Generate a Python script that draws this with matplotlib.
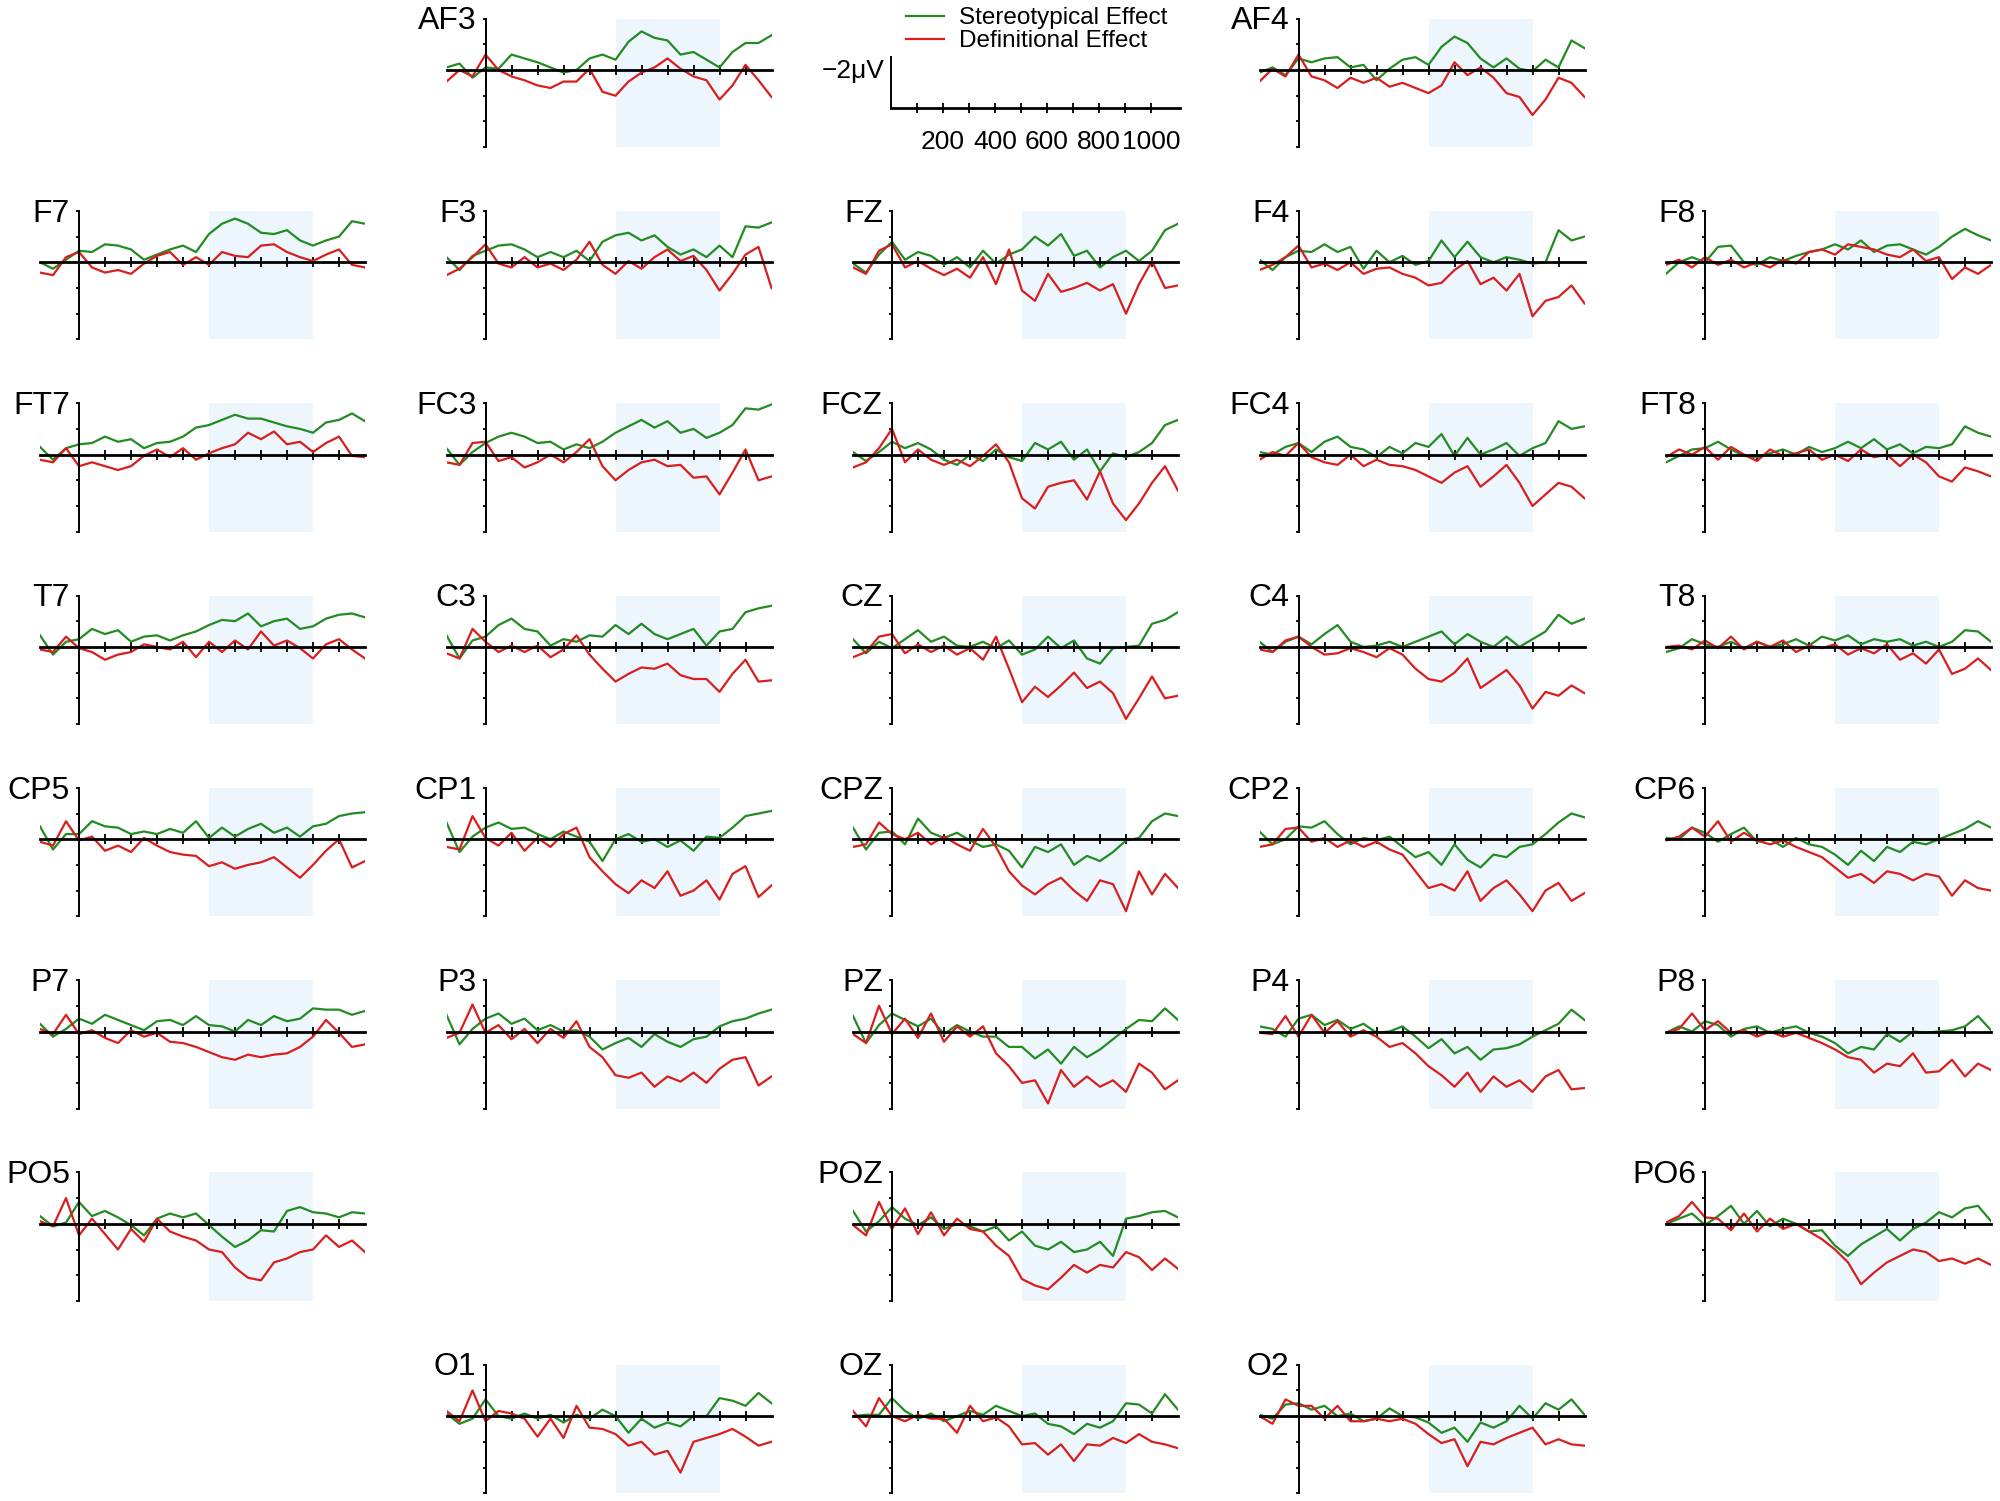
import matplotlib
matplotlib.use("Agg")
import matplotlib.pyplot as plt
from matplotlib.lines import Line2D

plt.rcParams['font.family'] = ['Liberation Sans', 'DejaVu Sans']

# time points (ms)
times = [-150, -100, -50, 0, 50, 100, 150, 200, 250, 300, 350, 400, 450,
         500, 550, 600, 650, 700, 750, 800, 850, 900, 950, 1000, 1050, 1100]

# difference waves in microvolts (negative plotted upward)
AF3_st = [-0.1,-0.25,0.3,-0.1,-0.05,-0.6,-0.45,-0.3,-0.1,0.1,0,-0.45,-0.6,-0.4,-1.1,-1.5,-1.25,-1.15,-0.6,-0.7,-0.4,-0.1,-0.7,-1.05,-1.05,-1.35]
AF3_df = [0.45,0,0.25,-0.6,0,0.25,0.4,0.6,0.7,0.45,0.45,-0.05,0.85,1.0,0.45,0.1,-0.1,-0.45,-0.05,0.25,0.4,1.15,0.6,-0.2,0.4,1.05]
AF4_st = [0.1,-0.1,0.2,-0.45,-0.3,-0.45,-0.5,-0.1,-0.2,0.4,-0.05,-0.4,-0.5,-0.2,-0.9,-1.3,-1.05,-0.45,-0.1,-0.45,-0.05,0.05,-0.4,-0.1,-1.15,-0.85]
AF4_df = [0.45,-0.05,0.25,-0.6,0.25,0.4,0.7,0.3,0.5,0.3,0.65,0.5,0.7,0.9,0.6,-0.3,0.2,-0.1,0.3,0.9,1.05,1.75,1.15,0.3,0.5,1.05]

F7_st = [0,0.25,-0.1,-0.45,-0.4,-0.7,-0.65,-0.5,-0.1,-0.3,-0.5,-0.65,-0.4,-1.1,-1.5,-1.7,-1.5,-1.15,-1.1,-1.25,-0.85,-0.65,-0.85,-1.0,-1.6,-1.5]
F7_df = [0.4,0.5,-0.2,-0.4,0.2,0.4,0.3,0.45,0.05,-0.25,-0.4,0.1,-0.2,0.1,-0.4,-0.25,-0.2,-0.65,-0.7,-0.4,-0.2,-0.05,-0.3,-0.5,0.1,0.2]
F3_st = [-0.2,0.3,-0.25,-0.45,-0.65,-0.7,-0.5,-0.2,-0.4,-0.2,-0.45,-0.05,-0.8,-1.05,-1.15,-0.85,-1.05,-0.6,-0.3,-0.5,-0.2,-0.65,-0.2,-1.4,-1.35,-1.55]
F3_df = [0.5,0.25,-0.2,-0.7,0.05,0.2,-0.2,0.2,0.05,0.3,-0.1,-0.8,0.1,0.45,-0.05,0.25,-0.2,-0.5,-0.05,-0.25,0.3,1.1,0.45,-0.3,-0.6,1.0]
FZ_st = [0.05,0.4,-0.3,-0.8,-0.1,-0.4,-0.25,0.1,-0.2,0.2,-0.45,0.05,-0.3,-0.5,-1.0,-0.65,-1.1,-0.25,-0.45,0.2,-0.2,-0.45,-0.05,-0.45,-1.25,-1.5]
FZ_df = [0.2,0.45,-0.45,-0.7,0.2,-0.05,0.25,0.5,0.25,0.6,-0.2,0.85,-0.5,1.1,1.5,0.45,1.15,1.0,0.8,1.1,0.85,2.0,0.85,-0.05,1.0,0.9]
F4_st = [-0.1,0.3,-0.2,-0.45,-0.4,-0.7,-0.4,-0.6,0.25,-0.45,0,-0.25,0.1,-0.05,-0.85,-0.2,-0.8,-0.2,0,-0.2,-0.1,0.05,0,-1.25,-0.85,-1.0]
F4_df = [0.3,0.1,-0.2,-0.65,0.2,0.05,0.3,0,0.45,0.25,0.2,0.45,0.6,0.9,0.8,0.3,-0.05,0.85,0.6,1.1,0.45,2.1,1.5,1.35,0.9,1.6]
F8_st = [0.45,0,-0.2,0,-0.6,-0.65,0,0.1,-0.2,-0.05,-0.25,-0.4,-0.5,-0.7,-0.5,-0.85,-0.4,-0.65,-0.7,-0.5,-0.3,-0.6,-1.0,-1.3,-1.05,-0.85]
F8_df = [0.1,-0.1,0.2,-0.2,0.1,-0.1,0.2,0,0.2,-0.1,0.05,-0.4,-0.5,-0.3,-0.7,-0.6,-0.5,-0.3,-0.2,-0.5,-0.05,-0.2,0.65,0.2,0.45,0.1]

FT7_st = [-0.3,0.2,-0.25,-0.4,-0.45,-0.7,-0.5,-0.6,-0.25,-0.45,-0.5,-0.7,-1.05,-1.15,-1.35,-1.55,-1.4,-1.4,-1.25,-1.1,-1.0,-0.85,-1.25,-1.35,-1.6,-1.3]
FT7_df = [0.2,0.3,-0.25,0.45,0.3,0.45,0.6,0.45,0.05,-0.2,0.1,-0.25,0.2,-0.05,-0.25,-0.4,-0.85,-0.6,-0.9,-0.4,-0.5,-0.1,-0.45,-0.7,0.05,0.1]
FC3_st = [-0.25,0.4,-0.1,-0.45,-0.7,-0.85,-0.7,-0.45,-0.5,-0.2,-0.4,-0.25,-0.5,-0.85,-1.1,-1.35,-1.05,-1.3,-0.85,-1.0,-0.65,-0.85,-1.15,-1.8,-1.75,-1.95]
FC3_df = [0.3,0.4,-0.45,-0.5,0.25,0.1,0.5,0.3,0,0.3,-0.1,-0.6,0.45,1.0,0.6,0.3,0.2,0.45,0.4,0.9,0.85,1.55,0.7,-0.2,1.0,0.85]
FCZ_st = [-0.1,0.25,-0.1,-0.5,-0.25,-0.45,-0.2,0.2,0.4,0,0.25,-0.2,0.1,0.25,-0.45,-0.2,-0.5,0.2,-0.2,0.65,-0.05,0.1,-0.1,-0.45,-1.15,-1.35]
FCZ_df = [0.5,0.3,-0.25,-1.0,0.3,-0.2,0.2,0.4,0.2,0.45,0.05,-0.4,0.3,1.7,2.1,1.25,1.1,1.0,1.75,0.65,1.9,2.55,1.9,1.1,0.45,1.4]
FC4_st = [-0.1,0,-0.3,-0.45,-0.1,-0.5,-0.7,-0.3,-0.2,0.1,-0.3,-0.05,-0.45,-0.3,-0.8,0.05,-0.65,0,-0.2,-0.45,0.05,-0.25,-0.45,-1.3,-1.0,-1.1]
FC4_df = [0.2,-0.1,0.05,-0.45,0.1,0.3,0.4,0,0.45,0.2,0.4,0.45,0.6,0.85,1.1,0.7,0.45,1.25,0.85,0.4,1.1,2.0,1.55,1.1,1.25,1.7]
FT8_st = [0.3,0.05,-0.2,-0.25,-0.5,-0.2,0.05,0.1,-0.05,-0.2,0,-0.3,-0.1,-0.25,-0.5,-0.25,-0.6,-0.2,-0.4,-0.05,-0.3,-0.25,-0.4,-1.1,-0.85,-0.7]
FT8_df = [0.1,-0.2,0,-0.3,0.2,-0.3,0,0.25,-0.2,0.05,-0.05,-0.2,0.2,0,0.25,-0.2,0.1,0,0.45,0,0.3,0.85,1.05,0.5,0.65,0.85]

T7_st = [-0.45,0.3,-0.2,-0.3,-0.7,-0.5,-0.65,-0.2,-0.4,-0.45,-0.25,-0.45,-0.6,-0.85,-1.05,-1.0,-1.3,-0.8,-1.0,-1.1,-0.7,-0.8,-1.1,-1.25,-1.3,-1.15]
T7_df = [0.1,0.2,-0.4,0.05,0.2,0.5,0.3,0.2,-0.1,0,0.1,-0.2,0.4,-0.2,0.2,-0.25,0.1,-0.6,-0.05,-0.25,0.05,0.45,-0.1,-0.3,0.1,0.45]
C3_st = [-0.45,0.45,-0.25,-0.4,-0.85,-1.1,-0.7,-0.6,-0.05,-0.3,-0.2,-0.45,-0.4,-0.85,-0.5,-0.9,-0.5,-0.3,-0.5,-0.7,-0.05,-0.6,-0.7,-1.35,-1.5,-1.6]
C3_df = [0.25,0.45,-0.7,-0.2,0.2,-0.05,0.2,-0.05,0.4,0.1,-0.45,0.3,0.85,1.35,1.05,0.8,0.85,0.65,1.1,1.25,1.25,1.75,1.05,0.5,1.35,1.3]
CZ_st = [-0.3,0.25,-0.2,0.05,-0.3,-0.65,-0.2,-0.4,-0.05,0,-0.2,0.05,-0.25,0.3,0.1,-0.4,0.05,-0.25,0.45,0.65,0.05,0,-0.05,-0.9,-1.05,-1.35]
CZ_df = [0.4,0.2,-0.4,-0.5,0.25,-0.1,0.2,-0.05,0.3,0.05,0.5,-0.4,0.85,2.15,1.55,1.95,1.5,1.0,1.6,1.35,1.8,2.8,2.0,1.15,2.0,1.9]
C4_st = [-0.2,0.2,-0.2,-0.4,-0.1,-0.5,-0.85,-0.2,0,-0.05,-0.2,0,-0.2,-0.4,-0.6,-0.1,-0.5,-0.2,0,-0.4,0,-0.3,-0.6,-1.25,-0.9,-1.1]
C4_df = [0.1,0.2,-0.25,-0.4,0,0.3,0.25,0.05,0.2,0.4,0.05,0.3,0.85,1.25,1.35,1.0,0.45,1.6,1.25,0.9,1.5,2.4,1.75,1.9,1.5,1.8]
T8_st = [0.2,0.05,-0.3,-0.1,0,-0.2,0.05,-0.2,0,-0.1,-0.3,-0.05,-0.4,-0.25,-0.45,-0.1,-0.3,-0.2,-0.3,-0.05,-0.2,0,-0.2,-0.65,-0.6,-0.2]
T8_df = [0,-0.05,0.1,-0.25,0.05,-0.4,0.1,-0.2,0,-0.25,0.2,-0.05,0.05,-0.1,0.3,0.05,0.25,-0.1,0.5,0.25,0.65,0.1,1.05,0.85,0.45,0.9]

CP5_st = [-0.5,0.4,-0.2,-0.2,-0.7,-0.5,-0.45,-0.2,-0.3,-0.2,-0.4,-0.25,-0.7,-0.05,-0.45,-0.1,-0.4,-0.6,-0.25,-0.45,-0.1,-0.5,-0.6,-0.9,-1.0,-1.05]
CP5_df = [0.1,0.25,-0.7,0.05,-0.1,0.45,0.25,0.5,-0.05,0.25,0.5,0.6,0.65,1.05,0.9,1.15,1.0,0.9,0.7,1.1,1.5,1.0,0.45,0,1.1,0.85]
CP1_st = [-0.65,0.5,-0.1,-0.45,-0.65,-0.4,-0.45,-0.2,0,-0.3,-0.1,0.1,0.85,0,-0.2,0.1,0,0.3,0.05,0.45,-0.1,-0.05,-0.45,-0.9,-1.0,-1.1]
CP1_df = [0.3,0.4,-0.9,-0.05,0.25,-0.25,0.45,-0.05,0.3,-0.2,-0.45,0.7,1.25,1.75,2.1,1.6,1.9,1.25,2.2,2.0,1.6,2.35,1.35,1.05,2.25,1.8]
CPZ_st = [-0.45,0.4,-0.25,-0.3,0.2,-0.8,-0.25,-0.05,-0.25,0.05,0.3,0.2,0.45,1.1,0.3,0.5,0.2,1.0,0.65,0.85,0.5,0.05,-0.05,-0.7,-1.0,-0.9]
CPZ_df = [0.3,0.2,-0.65,-0.2,0,-0.25,0.2,-0.1,0.2,0.45,-0.4,0.3,1.25,1.8,2.15,1.75,1.5,2.0,2.4,1.6,1.75,2.8,1.25,2.15,1.35,1.9]
CP2_st = [-0.3,0.2,0,-0.5,-0.45,-0.7,-0.2,0.2,-0.05,0.05,-0.1,0.3,0.7,0.5,1.0,0.2,0.8,1.1,0.6,0.7,0.3,0.2,-0.2,-0.65,-1.0,-0.85]
CP2_df = [0.3,0.2,-0.4,-0.45,0.1,-0.05,0.3,0.05,0.3,0.1,0.4,0.6,1.25,1.9,1.75,2.0,1.25,2.4,1.9,1.6,2.15,2.8,2.0,1.7,2.4,2.1]
CP6_st = [-0.05,0,-0.45,-0.25,0.1,-0.2,-0.45,0.1,0,0.3,-0.05,0.2,0.3,0.6,1.0,0.45,0.85,0.3,0.5,0.1,0.2,0,-0.2,-0.4,-0.7,-0.45]
CP6_df = [0.05,-0.1,-0.45,-0.1,-0.7,0.1,-0.25,0.05,0.2,0.05,0.3,0.5,0.7,1.1,1.5,1.35,1.7,1.25,1.35,1.6,1.35,1.45,2.2,1.6,1.9,2.0]

P7_st = [-0.3,0.2,-0.1,-0.5,-0.3,-0.65,-0.45,-0.25,-0.05,-0.4,-0.45,-0.25,-0.6,-0.25,-0.2,0,-0.45,-0.25,-0.6,-0.4,-0.5,-0.9,-0.85,-0.85,-0.65,-0.8]
P7_df = [-0.1,0.1,-0.65,0.1,-0.05,0.25,0.45,-0.05,0.2,0.05,0.4,0.45,0.6,0.8,1.0,1.1,0.9,1.0,0.9,0.85,0.6,0.2,-0.45,0.05,0.6,0.5]
P3_st = [-0.65,0.5,-0.1,-0.5,-0.7,-0.3,-0.5,-0.05,-0.25,0,-0.05,0.2,0.7,0.45,0.25,0.6,0.1,0.4,0.6,0.3,0.2,-0.2,-0.4,-0.5,-0.7,-0.85]
P3_df = [0.25,0.05,-1.05,0.05,-0.25,0.3,-0.1,0.45,-0.1,0.25,-0.4,0.6,1.0,1.7,1.8,1.6,2.15,1.75,1.95,1.6,2.0,1.45,1.1,1.0,2.1,1.75]
PZ_st = [-0.6,0.45,-0.25,-0.7,-0.45,-0.2,-0.5,0.1,-0.25,0,0.2,0.2,0.6,0.6,1.05,0.7,1.25,0.6,1.0,0.7,0.3,-0.1,-0.45,-0.4,-0.9,-0.45]
PZ_df = [0.1,0.45,-1.0,0.1,-0.5,0.25,-0.7,0.4,-0.2,0.2,-0.2,0.85,1.35,2.0,1.9,2.8,1.5,2.15,1.75,2.15,1.9,2.35,1.25,1.6,2.25,1.9]
P4_st = [-0.2,-0.1,0.2,-0.5,-0.65,-0.25,-0.45,-0.1,-0.3,0.05,0,-0.2,0.2,0.65,0.3,0.85,0.6,1.1,0.7,0.65,0.5,0.2,-0.05,-0.3,-0.85,-0.45]
P4_df = [0.05,0.1,-0.6,0.2,-0.65,0.05,-0.4,0.2,-0.05,0.2,0.6,0.45,0.85,1.35,1.7,2.15,1.6,2.35,1.75,2.15,1.9,2.35,1.75,1.5,2.25,2.2]
P8_st = [0.05,-0.2,0,-0.4,-0.25,0.2,-0.1,-0.2,0.05,-0.1,-0.2,0.05,0.2,0.45,0.85,0.6,0.7,0.1,0.4,0,0.05,0,-0.05,-0.2,-0.6,-0.05]
P8_df = [0.05,-0.1,-0.7,-0.05,-0.4,0.05,-0.05,0.2,0,0.2,0.05,0.25,0.45,0.7,1.0,1.1,1.6,1.25,1.35,0.85,1.6,1.55,1.1,1.75,1.25,1.5]

PO5_st = [-0.3,0.1,-0.05,-0.85,-0.3,-0.5,-0.25,0.05,0.45,-0.2,-0.4,-0.25,-0.4,0.05,0.5,0.9,0.65,0.25,0.3,-0.5,-0.65,-0.45,-0.4,-0.25,-0.45,-0.4]
PO5_df = [-0.1,0.1,-1.0,0.45,-0.2,0.4,1.0,0.2,0.7,-0.2,0.3,0.5,0.65,1.0,1.1,1.7,2.1,2.2,1.5,1.35,1.1,1.0,0.45,0.9,0.65,1.1]
POZ_st = [-0.5,0.3,-0.1,-0.65,-0.2,0.05,-0.25,0.2,0,0.1,0.3,0.1,0.65,0.3,0.85,1.0,0.7,1.1,1.0,0.7,1.25,-0.2,-0.3,-0.45,-0.5,-0.25]
POZ_df = [0.05,0.45,-0.85,0.2,-0.6,0.4,-0.45,0.45,-0.2,0.2,0.3,0.85,1.25,2.15,2.4,2.55,2.1,1.6,1.9,1.6,1.7,1.1,1.3,1.8,1.35,1.75]
PO6_st = [0,-0.2,-0.4,0.05,-0.3,-0.7,0,-0.5,0.1,-0.2,0,0.3,0.25,0.85,1.25,0.8,0.5,0.2,0.65,0.2,-0.05,-0.45,-0.25,-0.6,-0.7,-0.1]
PO6_df = [-0.05,-0.3,-0.85,-0.25,-0.2,0.25,-0.4,0.3,-0.2,0.2,0,0.3,0.6,1.0,1.5,2.35,1.9,1.5,1.25,1.0,1.1,1.45,1.35,1.55,1.35,1.6]

O1_st = [-0.1,0.3,0.1,-0.65,0,0.1,-0.1,0.1,-0.05,0.25,-0.05,0.1,-0.25,0,0.65,0.1,0.45,0.25,0.4,0,0,-0.7,-0.6,-0.4,-0.9,-0.5]
O1_df = [-0.2,0.2,-1.0,0.2,-0.2,-0.1,0.1,0.8,0.1,0.85,-0.4,0.45,0.5,0.7,1.15,1.0,1.5,1.35,2.2,1.0,0.85,0.7,0.5,0.8,1.15,1.0]
OZ_st = [0,-0.05,-0.05,-0.7,-0.2,0.1,-0.1,0.2,0,-0.2,-0.05,-0.4,-0.2,0,-0.1,0.3,0.4,0.7,0.3,0.45,0.2,-0.5,-0.45,-0.1,-0.85,-0.25]
OZ_df = [-0.2,0.4,-0.7,0,0.2,-0.05,0.1,0.1,0.65,-0.4,0.2,0.05,0.4,1.1,1.05,1.5,1.1,1.75,1.1,1.15,0.85,1.05,0.7,1.0,1.1,1.25]
O2_st = [-0.05,0.1,-0.45,-0.5,-0.25,-0.4,0,-0.1,0.2,0.1,-0.3,0,0.05,0.25,0.65,0.45,1.0,0.25,0.45,0.2,-0.4,0.1,-0.5,-0.25,-0.65,-0.05]
O2_df = [0,0.3,-0.65,-0.4,-0.4,0.1,-0.4,0.2,0.2,0.1,0.2,0.1,0.3,0.7,1.05,0.9,1.95,1.0,1.1,0.85,0.65,0.45,1.1,0.9,1.1,1.15]

# (label, row, column, stereotypical, definitional)
layout = [
    ("AF3", 0, 1, AF3_st, AF3_df), ("AF4", 0, 3, AF4_st, AF4_df),
    ("F7", 1, 0, F7_st, F7_df), ("F3", 1, 1, F3_st, F3_df), ("FZ", 1, 2, FZ_st, FZ_df),
    ("F4", 1, 3, F4_st, F4_df), ("F8", 1, 4, F8_st, F8_df),
    ("FT7", 2, 0, FT7_st, FT7_df), ("FC3", 2, 1, FC3_st, FC3_df), ("FCZ", 2, 2, FCZ_st, FCZ_df),
    ("FC4", 2, 3, FC4_st, FC4_df), ("FT8", 2, 4, FT8_st, FT8_df),
    ("T7", 3, 0, T7_st, T7_df), ("C3", 3, 1, C3_st, C3_df), ("CZ", 3, 2, CZ_st, CZ_df),
    ("C4", 3, 3, C4_st, C4_df), ("T8", 3, 4, T8_st, T8_df),
    ("CP5", 4, 0, CP5_st, CP5_df), ("CP1", 4, 1, CP1_st, CP1_df), ("CPZ", 4, 2, CPZ_st, CPZ_df),
    ("CP2", 4, 3, CP2_st, CP2_df), ("CP6", 4, 4, CP6_st, CP6_df),
    ("P7", 5, 0, P7_st, P7_df), ("P3", 5, 1, P3_st, P3_df), ("PZ", 5, 2, PZ_st, PZ_df),
    ("P4", 5, 3, P4_st, P4_df), ("P8", 5, 4, P8_st, P8_df),
    ("PO5", 6, 0, PO5_st, PO5_df), ("POZ", 6, 2, POZ_st, POZ_df), ("PO6", 6, 4, PO6_st, PO6_df),
    ("O1", 7, 1, O1_st, O1_df), ("OZ", 7, 2, OZ_st, OZ_df), ("O2", 7, 3, O2_st, O2_df),
]

GREEN = '#228b22'
RED = '#d81e1e'
SHADE = '#edf5fd'

W, H = 2000, 1501
PX_MS = 0.26     # pixels per ms
PX_UV = 25.7     # pixels per microvolt
fig = plt.figure(figsize=(W / 100, H / 100), dpi=100)


def make_axes(axis_x, zero_y):
    left = axis_x - 150 * PX_MS
    top = zero_y - 2 * PX_UV
    w = 1250 * PX_MS
    h = 5 * PX_UV
    ax = fig.add_axes([left / W, 1 - (top + h) / H, w / W, h / H])
    ax.set_xlim(-150, 1100)
    ax.set_ylim(3, -2)
    ax.patch.set_visible(False)
    for s in ('top', 'right'):
        ax.spines[s].set_visible(False)
    ax.spines['left'].set_position(('data', 0))
    ax.spines['bottom'].set_position(('data', 0))
    return ax


for name, row, col, st, df in layout:
    ax = make_axes(79 + 406.5 * col, 70 + 192.3 * row)
    ax.axvspan(500, 900, color=SHADE, zorder=0, lw=0)
    ax.plot(times, st, color=GREEN, lw=1.6, zorder=2)
    ax.plot(times, df, color=RED, lw=1.6, zorder=2)
    ax.spines['left'].set_linewidth(1.4)
    ax.spines['bottom'].set_linewidth(2.0)
    ax.spines['bottom'].set_zorder(3)
    ax.set_yticks([-2, -1, 0, 1, 2, 3])
    ax.set_xticks([100, 200, 300, 400, 500, 600, 700, 800, 900, 1000])
    ax.tick_params(axis='y', direction='out', length=2.5, width=1.3, labelleft=False)
    ax.tick_params(axis='x', direction='inout', length=7, width=1.3, labelbottom=False)
    ax.text(-35, -1.58, name, ha='right', va='baseline', fontsize=23)

# scale bar
sax = make_axes(891, 108)
sax.set_xlim(-150, 1100)
sax.spines['left'].set_bounds(-2, 0)
sax.spines['left'].set_linewidth(1.4)
sax.spines['bottom'].set_bounds(0, 1110)
sax.spines['bottom'].set_linewidth(2.0)
sax.set_yticks([])
sax.set_xticks([100, 200, 300, 400, 500, 600, 700, 800, 900, 1000])
sax.set_xticklabels(['', '200', '', '400', '', '600', '', '800', '', '1000'])
sax.tick_params(axis='x', direction='inout', length=7, width=1.3, pad=12, labelsize=19)
sax.text(-25, -1.45, '\u22122\u03bcV', ha='right', va='center', fontsize=19)

handles = [Line2D([], [], color=GREEN, lw=1.6), Line2D([], [], color=RED, lw=1.6)]
fig.legend(handles, ['Stereotypical Effect', 'Definitional Effect'],
           loc='upper left', bbox_to_anchor=(906 / W, 1 - 7 / H),
           frameon=False, fontsize=17.5, handlelength=1.55, handletextpad=0.65,
           labelspacing=0.05, borderpad=0, borderaxespad=0)

fig.savefig('out.png', dpi=100)
